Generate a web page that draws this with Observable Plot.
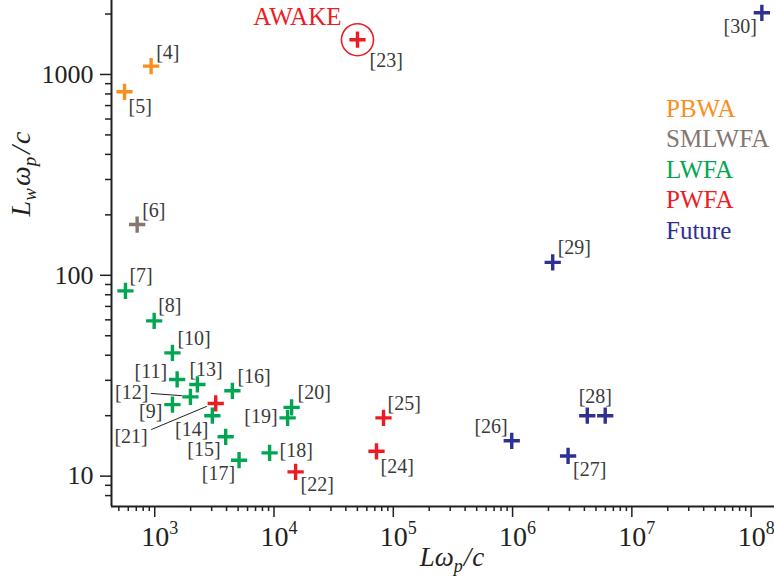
<!DOCTYPE html>
<html><head><meta charset="utf-8">
<script src="https://cdn.jsdelivr.net/npm/d3@7"></script>
<script src="https://cdn.jsdelivr.net/npm/@observablehq/plot@0.6"></script>
<style>body{margin:0;background:#fff;} svg{display:block} svg text{font-family:"Liberation Serif","DejaVu Serif",serif !important;}</style>
</head><body><div id="chart"></div>
<script>
// ---- data ----
const refs = ["[4]","[5]","[6]","[7]","[8]","[10]","[11]","[13]","[12]","[9]","[21]","[16]","[14]","[15]","[17]","[18]","[22]","[19]","[20]","[25]","[24]","[26]","[27]","[28]","","[29]","[30]","[23]"];
const xs = [933,558,712,568,989,1407,1541,2278,1991,1407,3245,4477,3041,3933,5093,9183,15170,13000,14040,82800,72300,984000,2.92e6,4.23e6,5.98e6,2.17e6,1.23e8,50100];
const ys = [1100,820,179,83.6,59.3,41.1,30.3,28.6,24.8,22.7,23.0,26.6,20.0,15.7,12.0,13.06,10.5,19.5,22.0,19.5,13.3,15.0,12.6,20.0,20.0,116,2028,1489];
const cats = ["PBWA","PBWA","SMLWFA","LWFA","LWFA","LWFA","LWFA","LWFA","LWFA","LWFA","PWFA","LWFA","LWFA","LWFA","LWFA","LWFA","PWFA","LWFA","LWFA","PWFA","PWFA","Future","Future","Future","Future","Future","Future","PWFA"];
const categories = ["PBWA","SMLWFA","LWFA","PWFA","Future"];
const colors = ["#f7901e","#857670","#00a651","#ed1c24","#2e3192"];
const highlightRef = "[23]";
const highlightName = "AWAKE";
const xMajorTicks = [1e3,1e4,1e5,1e6,1e7,1e8];
const xTickBase = "10";
const xTickExponents = ["3","4","5","6","7","8"];
const yMajorTicks = [10,100,1000];
const yTickLabels = ["10","100","1000"];
const xDomain = [434, 1.57e8];
const yDomain = [7.06, 2335];

// ---- label layout (anchor, dx, dy) ----
const labelPlacement = {
  "[4]":["start",5,-14],"[5]":["start",4,15],"[6]":["start",5,-14],"[7]":["start",4,-15],
  "[8]":["start",4,-15],"[10]":["start",5,-14],"[11]":["end",-10,-8],"[13]":["start",-8,-15],
  "[12]":["end",-42,-4],"[9]":["end",-10,7],"[21]":["end",-68,33],"[16]":["start",5,-14],
  "[14]":["end",-4,14],"[15]":["end",-5,13],"[17]":["end",-4,13],"[18]":["start",10,-2],
  "[22]":["start",5,13],"[19]":["end",-10,-1],"[20]":["start",6,-15],"[25]":["start",4,-14],
  "[24]":["start",4,15],"[26]":["end",-4,-14],"[27]":["start",5,14],"[28]":["middle",8,-19],
  "[29]":["start",5,-15],"[30]":["end",-5,14],"[23]":["start",12,21]
};
const leaders = {"[12]":[[-39,-3],[-8,-0.7]], "[21]":[[-64,26.6],[-8.3,3.3]]};

const points = refs.map((r,i)=>({ref:r, x:xs[i], y:ys[i], cat:cats[i]}));
const ink = "#231f20";
const labelInk = "#3a3a3a";
const font = "Liberation Serif, DejaVu Serif, serif";

const minorX = d3.scaleLog().domain(xDomain).ticks(20).filter(t=>!xMajorTicks.includes(t));
const minorY = d3.scaleLog().domain(yDomain).ticks(20).filter(t=>!yMajorTicks.includes(t));

const labelMarks = points.filter(p=>p.ref && labelPlacement[p.ref]).map(p=>{
  const [a,dx,dy] = labelPlacement[p.ref];
  return Plot.text([p], {x:"x", y:"y", text:"ref", textAnchor:a, dx, dy, fontSize:20, fill:labelInk});
});
const hl = points.find(p=>p.ref===highlightRef);

const plot = Plot.plot({
  width: 774, height: 583,
  marginLeft: 111, marginRight: 0, marginTop: 0, marginBottom: 77,
  style: {fontFamily: font, background: "white", overflow: "visible"},
  x: {type: "log", domain: xDomain, label: null},
  y: {type: "log", domain: yDomain, label: null},
  color: {domain: categories, range: colors},
  marks: [
    Plot.axisX(minorX, {tickSize: 5, tickFormat: () => "", stroke: ink, strokeWidth: 1.5, label: null}),
    Plot.axisX(xMajorTicks, {tickSize: 11, tickPadding: 9, tickFormat: () => xTickBase, fontSize: 28, fill: ink, stroke: ink, strokeWidth: 1.5, label: null}),
    Plot.axisY(minorY, {tickSize: 6, tickFormat: () => "", stroke: ink, strokeWidth: 1.5, label: null}),
    Plot.axisY(yMajorTicks, {tickSize: 11, tickPadding: 7, tickFormat: d => yTickLabels[yMajorTicks.indexOf(d)], fontSize: 26, fill: ink, stroke: ink, strokeWidth: 1.5, label: null}),
    Plot.ruleY([yDomain[0]], {stroke: ink, strokeWidth: 2}),
    Plot.ruleX([xDomain[0]], {stroke: ink, strokeWidth: 2}),
    Plot.dot([hl], {x:"x", y:"y", r: 16, stroke: colors[3], strokeWidth: 1.6, fill: "none"}),
    Plot.dot(points, {x:"x", y:"y", symbol:"plus", r: 5.3, stroke:"cat", strokeWidth: 3.4}),
    ...labelMarks,
    Plot.text([hl], {x:"x", y:"y", text: () => highlightName, textAnchor:"end", dx:-16, dy:-23, fontSize:25, fill: colors[3]})
  ]
});

const svg = d3.select(plot);
const sx = plot.scale("x"), sy = plot.scale("y");

// superscript exponents on x tick labels
svg.selectAll('[aria-label="x-axis tick label"] text').filter(function(){return this.textContent===xTickBase;})
  .each(function(d,i){
    const t = d3.select(this);
    t.text(null).attr("dx", "5");
    t.append("tspan").text(xTickBase);
    t.append("tspan").attr("dy", "-12").attr("font-size", 18).text(xTickExponents[i]);
  });

// leader lines
for (const [ref, [a,b]] of Object.entries(leaders)) {
  const p = points.find(q=>q.ref===ref);
  const px = sx.apply(p.x), py = sy.apply(p.y);
  svg.append("line").attr("x1", px+a[0]).attr("y1", py+a[1]).attr("x2", px+b[0]).attr("y2", py+b[1])
    .attr("stroke", ink).attr("stroke-width", 1);
}

// legend
categories.forEach((c,i)=>{
  svg.append("text").attr("x", 666).attr("y", 108 + i*30.5).attr("dy","0.35em").attr("text-anchor","start")
    .attr("font-size", 25).attr("fill", colors[i]).text(c);
});

// axis titles
function sub(t, s, fs){ t.append("tspan").attr("dy", 6).attr("font-size", fs).text(s); }
const xl = svg.append("text").attr("x", 452).attr("y", 566).attr("text-anchor","middle")
  .attr("font-size", 27).attr("font-style","italic").attr("fill", ink);
xl.append("tspan").text("Lω");
sub(xl, "p", 18);
xl.append("tspan").attr("dy", -6).attr("dx", 1).text("/");
xl.append("tspan").attr("dx", 1).text("c");

const yl = svg.append("text").attr("transform","translate(30,174) rotate(-90)").attr("text-anchor","middle")
  .attr("font-size", 28).attr("font-style","italic").attr("fill", ink);
yl.append("tspan").text("L");
sub(yl, "w", 19);
yl.append("tspan").attr("dy", -6).attr("dx", 2).text("ω");
sub(yl, "p", 19);
yl.append("tspan").attr("dy", -6).attr("dx", 3).text("/");
yl.append("tspan").attr("dx", 2).text("c");

document.getElementById("chart").append(plot);
</script>
</body></html>
